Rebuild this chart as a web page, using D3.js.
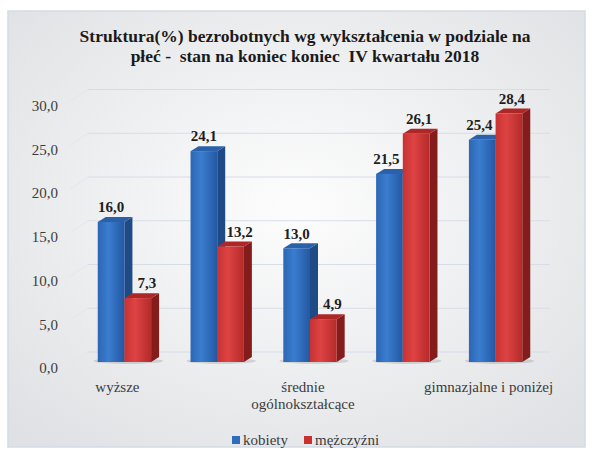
<!DOCTYPE html>
<html>
<head>
<meta charset="utf-8">
<script src="https://cdn.jsdelivr.net/npm/d3@7"></script>
<style>
  body { margin: 0; background: #fff; }
</style>
</head>
<body>
<div class="container"></div>
<script>
// categories (x axis), only every other label is printed in the original
const categories = ['wyższe', 'policealne i średnie zawodowe', 'średnie ogólnokształcące', 'zasadnicze zawodowe', 'gimnazjalne i poniżej']
const tickLabels = [['wyższe'], [], ['średnie', 'ogólnokształcące'], [], ['gimnazjalne i poniżej']]
const series = ['kobiety', 'mężczyźni']
const kobiety = [16.0, 24.1, 13.0, 21.5, 25.4]
const mezczyzni = [7.3, 13.2, 4.9, 26.1, 28.4]
const yTicks = [0, 5, 10, 15, 20, 25, 30]
const titleLines = ['Struktura(%) bezrobotnych wg wykształcenia w podziale na', 'płeć -  stan na koniec koniec  IV kwartału 2018']

const width = 592
const height = 457
const depth = { x: 8, y: 5 }
const serif = "'Liberation Serif', 'DejaVu Serif', serif"

const colors = {
  kobiety: { front: ['#2d66b5', '#3a7dcf', '#2358a3'], side: '#1e4a86', top: '#2b61aa', legend: '#2f6cbc' },
  'mężczyźni': { front: ['#c83232', '#de4343', '#b52a2a'], side: '#841c1c', top: '#ad2727', legend: '#c8312e' }
}

const svg = d3.select('.container')
              .append('svg')
              .attr('width', width)
              .attr('height', height)
              .style('font-family', serif)

const defs = svg.append('defs')
const bg = defs.append('radialGradient')
               .attr('id', 'bg')
               .attr('cx', '50%').attr('cy', '45%').attr('r', '70%')
bg.append('stop').attr('offset', '0%').attr('stop-color', '#fdfdfd')
bg.append('stop').attr('offset', '100%').attr('stop-color', '#dfe1e4')

series.forEach(function (s, i) {
  const g = defs.append('linearGradient')
                .attr('id', 'front' + i)
                .attr('x1', 0).attr('x2', 1).attr('y1', 0).attr('y2', 0)
  g.append('stop').attr('offset', '0%').attr('stop-color', colors[s].front[0])
  g.append('stop').attr('offset', '40%').attr('stop-color', colors[s].front[1])
  g.append('stop').attr('offset', '100%').attr('stop-color', colors[s].front[2])
})

// panel
svg.append('rect')
   .attr('x', 8).attr('y', 11)
   .attr('width', 577).attr('height', 436)
   .attr('fill', 'url(#bg)')
   .attr('stroke', '#d3dbe6')
   .attr('stroke-width', 1.5)

// title
svg.append('g')
   .selectAll('text')
   .data(titleLines)
   .enter()
   .append('text')
   .attr('x', 305)
   .attr('y', function (d, i) { return 42 + i * 20 })
   .attr('text-anchor', 'middle')
   .attr('font-family', serif)
   .style('font-size', '17.5px')
   .style('font-weight', 'bold')
   .style('white-space', 'pre')
   .attr('fill', '#1a1a1a')
   .text(function (d) { return d })

// scales
const x0 = d3.scaleBand()
             .domain(categories)
             .range([58.3, 561.7])
             .padding(0.425)

const x1 = d3.scaleBand()
             .domain(series)
             .range([0, x0.bandwidth()])

const yScale = d3.scaleLinear()
                 .domain([0, 30])
                 .range([362, 99.5])

// gridlines on the back wall
const grid = svg.append('g').attr('class', 'grid')
grid.selectAll('.gline')
    .data(yTicks)
    .enter()
    .append('line')
    .attr('x1', 88).attr('x2', 550)
    .attr('y1', function (d) { return yScale(d) - 10 })
    .attr('y2', function (d) { return yScale(d) - 10 })
    .attr('stroke', '#d6dde8')
    .attr('stroke-width', 1)
grid.selectAll('.sline')
    .data(yTicks)
    .enter()
    .append('line')
    .attr('x1', 70).attr('x2', 88)
    .attr('y1', function (d) { return yScale(d) + 2 })
    .attr('y2', function (d) { return yScale(d) - 10 })
    .attr('stroke', '#e3e7ed')
    .attr('stroke-width', 1)

// y axis labels
svg.append('g')
   .selectAll('text')
   .data(yTicks)
   .enter()
   .append('text')
   .attr('x', 58)
   .attr('y', function (d) { return yScale(d) + 6 })
   .attr('dy', '0.35em')
   .attr('text-anchor', 'end')
   .attr('font-family', serif)
   .style('font-size', '15px')
   .attr('fill', '#3c3c3c')
   .text(function (d) { return d3.format('.1f')(d).replace('.', ',') })

// floor shadow
svg.append('g')
   .selectAll('ellipse')
   .data(categories)
   .enter()
   .append('ellipse')
   .attr('cx', function (d) { return x0(d) + x0.bandwidth() / 2 + 4 })
   .attr('cy', yScale(0) - 1)
   .attr('rx', x0.bandwidth() / 2 + 8)
   .attr('ry', 3)
   .attr('fill', '#000')
   .attr('opacity', 0.12)

// bars
const rows = categories.map(function (c, i) {
  return [
    { cat: c, key: 'kobiety', si: 0, value: kobiety[i], other: mezczyzni[i] },
    { cat: c, key: 'mężczyźni', si: 1, value: mezczyzni[i], other: kobiety[i] }
  ]
})

const groups = svg.append('g')
                  .selectAll('.cat')
                  .data(rows)
                  .enter()
                  .append('g')
                  .attr('class', 'cat')
                  .attr('transform', function (d, i) { return 'translate(' + x0(categories[i]) + ',0)' })

const bars = groups.selectAll('.bar')
                   .data(function (d) { return d })
                   .enter()
                   .append('g')
                   .attr('class', 'bar')

function poly (pts) {
  return 'M' + pts.map(function (p) { return p.join(',') }).join('L') + 'Z'
}

// side face
bars.append('path')
    .attr('d', function (d) {
      const xr = x1(d.key) + x1.bandwidth()
      const yt = yScale(d.value)
      const yb = yScale(0)
      return poly([[xr, yt], [xr + depth.x, yt - depth.y], [xr + depth.x, yb - depth.y], [xr, yb]])
    })
    .attr('fill', function (d) { return colors[d.key].side })

// top face
bars.append('path')
    .attr('d', function (d) {
      const xl = x1(d.key)
      const xr = xl + x1.bandwidth()
      const yt = yScale(d.value)
      return poly([[xl, yt], [xl + depth.x, yt - depth.y], [xr + depth.x, yt - depth.y], [xr, yt]])
    })
    .attr('fill', function (d) { return colors[d.key].top })

// front face
bars.append('rect')
    .attr('x', function (d) { return x1(d.key) })
    .attr('y', function (d) { return yScale(d.value) })
    .attr('width', x1.bandwidth())
    .attr('height', function (d) { return yScale(0) - yScale(d.value) })
    .attr('fill', function (d) { return 'url(#front' + d.si + ')' })

// value labels (nudged sideways like excel does to avoid the neighbour bar)
function labelShift (d) {
  if (d.si === 1) return d.value < d.other ? 9 : 3
  return d.value < d.other ? -3 : 0
}

bars.append('text')
    .attr('x', function (d) { return x1(d.key) + x1.bandwidth() / 2 + labelShift(d) })
    .attr('y', function (d) { return yScale(d.value) - 15 })
    .attr('dy', '0.35em')
    .attr('text-anchor', 'middle')
    .attr('font-family', serif)
    .style('font-size', '15px')
    .style('font-weight', 'bold')
    .attr('fill', '#1e1e1e')
    .text(function (d) { return d3.format('.1f')(d.value).replace('.', ',') })

// category labels
const xl = svg.append('g')
              .selectAll('.xlabel')
              .data(categories)
              .enter()
              .append('text')
              .attr('class', 'xlabel')
              .attr('text-anchor', 'middle')
              .attr('font-family', serif)
              .style('font-size', '15px')
              .attr('fill', '#3c3c3c')
              .attr('transform', function (d) { return 'translate(' + (x0(d) + x0.bandwidth() / 2 - 7) + ',392)' })

xl.selectAll('tspan')
  .data(function (d, i) { return tickLabels[i] })
  .enter()
  .append('tspan')
  .attr('x', 0)
  .attr('dy', function (d, i) { return i === 0 ? 0 : 17 })
  .text(function (d) { return d })

// legend
const legend = svg.append('g')
                  .attr('class', 'legend')
                  .attr('transform', 'translate(232,440)')

const legendX = [0, 72]
const li = legend.selectAll('.item')
                 .data(series)
                 .enter()
                 .append('g')
                 .attr('transform', function (d, i) { return 'translate(' + legendX[i] + ',0)' })

li.append('rect')
  .attr('x', 0).attr('y', -4)
  .attr('width', 8).attr('height', 8)
  .attr('fill', function (d) { return colors[d].legend })

li.append('text')
  .attr('x', 11)
  .attr('dy', '0.35em')
  .attr('font-family', serif)
  .style('font-size', '15px')
  .attr('fill', '#3c3c3c')
  .text(function (d) { return d })
</script>
</body>
</html>
